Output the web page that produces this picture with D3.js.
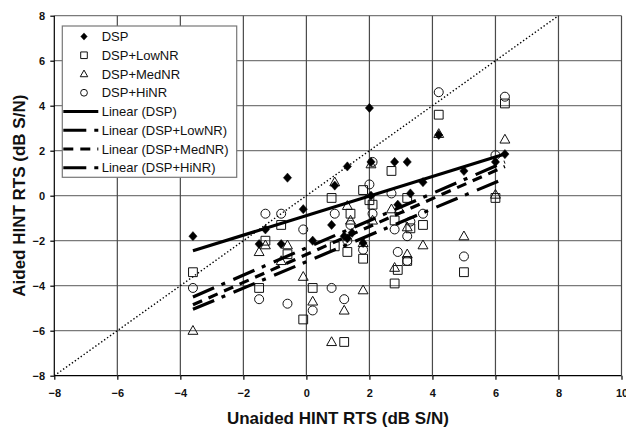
<!DOCTYPE html>
<html><head><meta charset="utf-8">
<script src="https://cdn.jsdelivr.net/npm/d3@7"></script>
<style>
html,body{margin:0;padding:0;background:#fff;}
svg{display:block;font-family:"Liberation Sans",Arial,sans-serif;}
</style></head>
<body>
<script>
// ---- data ----
const xTicks = [-8,-6,-4,-2,0,2,4,6,8,10];
const yTicks = [-8,-6,-4,-2,0,2,4,6,8];
const xTitle = "Unaided HINT RTS (dB S/N)";
const yTitle = "Aided HINT RTS (dB S/N)";

const dsp = [[-3.6,-1.8],[-1.5,-2.15],[-1.3,-1.5],[-0.8,-2.15],[-0.6,0.8],[-0.1,-0.6],[0.2,-2.0],
  [0.8,-1.3],[0.9,0.45],[1.2,-1.8],[1.3,1.3],[1.3,-1.9],[1.45,-1.65],[1.8,-2.1],[2.0,3.9],[2.05,1.5],
  [2.05,0.0],[2.8,1.5],[2.9,-0.4],[3.2,1.5],[3.3,0.1],[3.7,0.6],[4.2,2.7],[5.0,1.1],[6.0,1.5],[6.3,1.85]];
const lowNR = [[-3.6,-3.4],[-1.5,-4.1],[-1.3,-2.0],[-0.8,-1.3],[-0.6,-2.6],[-0.1,-5.5],[0.2,-4.1],
  [0.8,-0.1],[0.9,-2.25],[1.2,-6.5],[1.3,-2.5],[1.4,-0.8],[1.8,0.25],[1.8,-2.8],[2.0,-0.2],[2.1,-0.4],
  [2.7,1.1],[2.8,-1.1],[2.8,-3.9],[2.9,-3.3],[3.2,-0.1],[3.3,-1.45],[3.2,-2.9],[3.7,-1.3],[4.2,3.6],
  [5.0,-3.4],[6.0,-0.1],[6.3,4.1]];
const medNR = [[-3.6,-6.0],[-1.5,-2.5],[-1.3,-2.2],[-0.8,-2.9],[-0.6,-2.2],[-0.1,-3.6],[0.2,-4.7],
  [0.8,-6.5],[0.9,0.6],[1.2,-5.1],[1.3,-0.45],[1.4,-1.1],[1.8,-4.2],[1.8,-2.1],[2.05,1.4],[2.1,-1.1],
  [2.7,-0.6],[2.8,-3.2],[2.95,-0.6],[3.2,-1.4],[3.2,-2.6],[3.7,-2.2],[4.2,2.75],[5.0,-1.8],[6.0,0.05],[6.3,2.5]];
const hiNR = [[-3.6,-4.1],[-1.5,-4.6],[-1.3,-0.8],[-0.8,-0.8],[-0.6,-4.8],[-0.1,-1.5],[0.2,-5.1],
  [0.8,-4.1],[0.9,-0.8],[1.2,-4.6],[1.3,-2.0],[1.4,-1.3],[1.8,-2.4],[2.0,0.5],[2.1,1.5],[2.1,-0.8],
  [2.7,0.1],[2.8,-1.5],[2.9,-2.5],[3.2,-1.8],[3.2,-2.9],[3.3,-1.15],[3.7,-0.8],[4.2,4.6],[5.0,-2.7],
  [6.0,1.8],[6.3,4.4]];

// trend lines: [x0,y0,x1,y1]
const trendDSP = [-3.6,-2.45,6.3,1.85];
const trendLow = [-3.6,-4.5,6.3,1.5];
const trendMed = [-3.6,-4.85,6.3,1.3];
const trendHi  = [-3.6,-5.05,6.3,0.77];
const identityLine = [-8,-8,8,8];

const seriesNames = ["DSP","DSP+LowNR","DSP+MedNR","DSP+HiNR"];
const trendNames = ["Linear (DSP)","Linear (DSP+LowNR)","Linear (DSP+MedNR)","Linear (DSP+HiNR)"];

// ---- drawing ----
const W=626,H=427;
const svg=d3.select("body").append("svg").attr("width",W).attr("height",H);
const x=d3.scaleLinear().domain([-8,10]).range([54.3,621.5]);
const y=d3.scaleLinear().domain([-8,8]).range([375.7,15.7]);

// grid
const g=svg.append("g");
g.selectAll("line.hg").data(yTicks).join("line")
 .attr("x1",x(-8)).attr("x2",x(10)).attr("y1",d=>y(d)).attr("y2",d=>y(d))
 .attr("stroke",d=>d===-8?"#000":"#7a7a7a").attr("stroke-width",1.2);
g.selectAll("line.vg").data(xTicks).join("line")
 .attr("y1",y(-8)).attr("y2",y(8)).attr("x1",d=>x(d)).attr("x2",d=>x(d))
 .attr("stroke",d=>d===-8?"#000":"#4a4a4a").attr("stroke-width",1.2);

// axes
const ax=svg.append("g").attr("transform",`translate(0,${y(-8)})`)
 .call(d3.axisBottom(x).tickValues(xTicks).tickSize(4).tickFormat(d3.format("d")));
ax.select(".domain").remove();
ax.selectAll("line").attr("stroke","#000").attr("stroke-width",1.2);
ax.selectAll("text").attr("y",21).attr("dy",0).attr("font-size",11).attr("font-weight","bold").attr("fill","#111");
const ay=svg.append("g").attr("transform",`translate(${x(-8)},0)`)
 .call(d3.axisLeft(y).tickValues(yTicks).tickSize(4).tickFormat(d3.format("d")));
ay.select(".domain").remove();
ay.selectAll("line").attr("stroke","#000").attr("stroke-width",1.2);
ay.selectAll("text").attr("x",-9.3).attr("dy","0.35em").attr("font-size",11).attr("font-weight","bold").attr("fill","#111");
svg.selectAll(".tick text").attr("font-family","Liberation Sans, Arial, sans-serif");

// titles
svg.append("text").attr("x",(x(-8)+x(10))/2).attr("y",424).attr("text-anchor","middle")
 .attr("font-size",17).attr("font-weight","bold").attr("fill","#111").text(xTitle);
svg.append("text").attr("transform",`translate(25,${(y(-8)+y(8))/2}) rotate(-90)`).attr("text-anchor","middle")
 .attr("font-size",17).attr("font-weight","bold").attr("fill","#111").text(yTitle);

// identity dotted line
svg.append("line").attr("x1",x(identityLine[0])).attr("y1",y(identityLine[1]))
 .attr("x2",x(identityLine[2])).attr("y2",y(identityLine[3]))
 .attr("stroke","#000").attr("stroke-width",1.4).attr("stroke-dasharray","1.4,2.2");

// markers
const sym={
 diamond:(s)=>`M0,${-s}L${s*0.9},0L0,${s}L${-s*0.9},0Z`,
 square:(s)=>`M${-s},${-s}H${s}V${s}H${-s}Z`,
 triangle:(s)=>`M0,${-s*1.15}L${s*1.1},${s*0.8}L${-s*1.1},${s*0.8}Z`,
 circle:(s)=>`M${s},0A${s},${s} 0 1 1 ${-s},0A${s},${s} 0 1 1 ${s},0Z`
};
function drawSeries(data,shape,filled,size){
 svg.append("g").selectAll("path").data(data).join("path")
  .attr("transform",d=>`translate(${x(d[0])},${y(d[1])})`)
  .attr("d",sym[shape](size))
  .attr("fill",filled?"#000":"none").attr("stroke","#111").attr("stroke-width",filled?0.5:1);
}
drawSeries(hiNR,"circle",false,4.5);
drawSeries(medNR,"triangle",false,4.5);
drawSeries(lowNR,"square",false,4.4);
drawSeries(dsp,"diamond",true,4.6);

// trend lines
const trendStyles=[[trendDSP,null],[trendLow,"23,8,4,9"],[trendMed,"10,7"],[trendHi,"23,8,4,9"]];
trendStyles.forEach(([t,dash])=>{
 svg.append("line").attr("x1",x(t[0])).attr("y1",y(t[1])).attr("x2",x(t[2])).attr("y2",y(t[3]))
  .attr("stroke","#000").attr("stroke-width",3.2).attr("stroke-dasharray",dash);
});

// legend
const lg=svg.append("g");
lg.append("rect").attr("x",62.3).attr("y",26).attr("width",174.4).attr("height",151.3)
 .attr("fill","#fff").attr("stroke","#777").attr("stroke-width",1.2);
const rowY=i=>36.5+i*18.75;
const legShapes=[["diamond",true,3.6],["square",false,3.3],["triangle",false,3.4],["circle",false,3.4]];
seriesNames.forEach((n,i)=>{
 const [sh,f,s]=legShapes[i];
 lg.append("path").attr("transform",`translate(84,${rowY(i)})`).attr("d",sym[sh](s))
  .attr("fill",f?"#000":"none").attr("stroke","#111").attr("stroke-width",f?0.5:1);
 lg.append("text").attr("x",101.7).attr("y",rowY(i)).attr("dy","0.36em").attr("font-size",13).attr("fill","#111").text(n);
});
trendNames.forEach((n,j)=>{
 const i=j+4;
 lg.append("line").attr("x1",63.3).attr("x2",98.3).attr("y1",rowY(i)).attr("y2",rowY(i))
  .attr("stroke","#000").attr("stroke-width",3).attr("stroke-dasharray",trendStyles[j][1]);
 lg.append("text").attr("x",101.7).attr("y",rowY(i)).attr("dy","0.36em").attr("font-size",13).attr("fill","#111").text(n);
});
</script>
</body></html>
